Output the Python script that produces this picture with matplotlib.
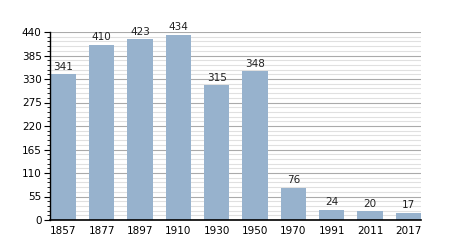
import numpy as np
import matplotlib.pyplot as plt
from matplotlib.ticker import MultipleLocator

# population data
years = ['1857', '1877', '1897', '1910', '1930', '1950', '1970', '1991', '2011', '2017']
population = [341, 410, 423, 434, 315, 348, 76, 24, 20, 17]

bar_color = '#97b2cd'

fig = plt.figure(figsize=(4.5, 2.5), dpi=100)
ax = fig.add_axes([50/450, 1 - 220/250, (421 - 50)/450, (220 - 32)/250])

x = np.arange(len(years))
ax.bar(x, population, width=0.66, color=bar_color, zorder=3)

for xi, v in zip(x, population):
    ax.text(xi, v + 6, str(v), ha='center', va='bottom', fontsize=7.5, color='#222222', zorder=4)

ax.set_xlim(-0.35, 9.33)
ax.set_ylim(0, 440)
ax.yaxis.set_major_locator(MultipleLocator(55))
ax.yaxis.set_minor_locator(MultipleLocator(11))
ax.grid(axis='y', which='major', color='#aaaaaa', linewidth=0.8, zorder=0)
ax.grid(axis='y', which='minor', color='#e0e0e0', linewidth=0.8, zorder=0)

ax.set_xticks(x)
ax.set_xticklabels(years)
ax.tick_params(axis='x', length=0, labelsize=7.5, pad=4)
ax.tick_params(axis='y', which='major', length=4, labelsize=7.5, pad=2)
ax.tick_params(axis='y', which='minor', length=2)

for s in ['top', 'right']:
    ax.spines[s].set_visible(False)
ax.spines['left'].set_linewidth(1)
ax.spines['bottom'].set_linewidth(1.2)
ax.spines['left'].set_zorder(5)
ax.spines['bottom'].set_zorder(5)

fig.savefig('out.png', dpi=100)
